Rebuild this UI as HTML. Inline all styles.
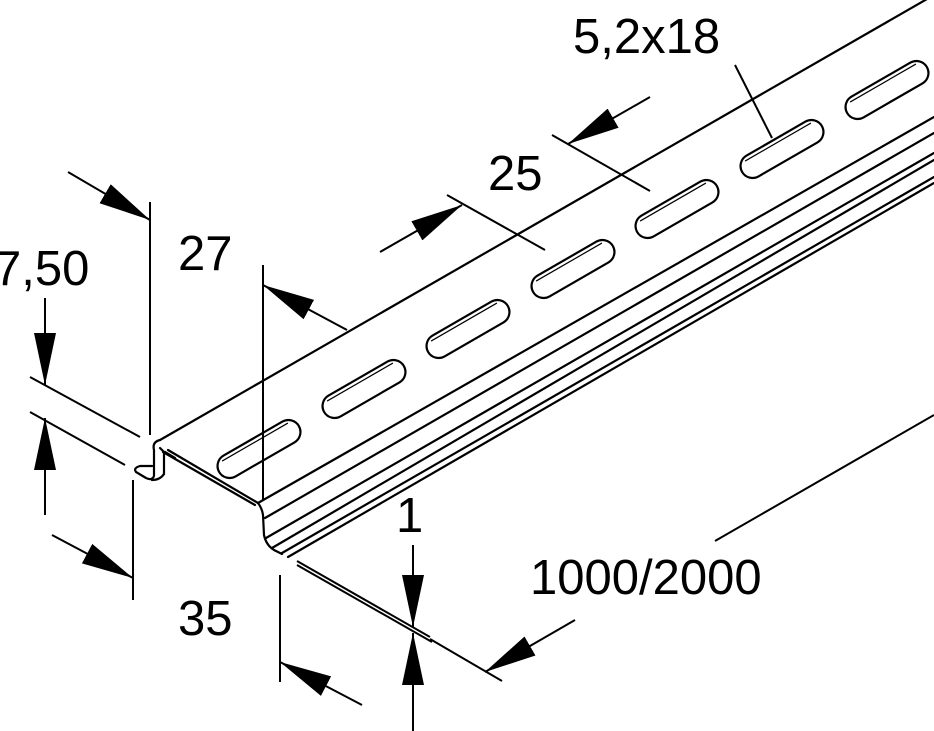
<!DOCTYPE html>
<html><head><style>html,body{margin:0;padding:0;background:#fff}svg{display:block}</style></head><body>
<svg width="934" height="731" viewBox="0 0 934 731" xmlns="http://www.w3.org/2000/svg">
<defs>
<marker id="a" markerUnits="userSpaceOnUse" markerWidth="56" markerHeight="26" refX="52" refY="11" orient="auto">
<path d="M0,0 L52,11 L0,22 z" fill="#000"/></marker>
</defs>
<g stroke="#000" stroke-width="2.2" fill="none" stroke-linecap="round">
<line x1="160" y1="440" x2="934" y2="-5"/>
<line x1="258" y1="503" x2="934" y2="117"/>
<line x1="265" y1="518" x2="934" y2="133"/>
<line x1="266" y1="538" x2="934" y2="153"/>
<line x1="272" y1="548" x2="934" y2="160"/>
<line x1="282" y1="553" x2="934" y2="177"/>
<line x1="288" y1="557" x2="934" y2="183"/>
<path d="M258,503 Q262,508 263,515 L264,535 Q266,545 274,550 L282,554"/>
<path d="M258,503 L168,450 M160,440 Q152,442 154,450 L154,476 Q152,481 146,478 L136,472 Q133,468 140,466 L152,466"/>
<path d="M160,448 L164,452 L164,474 Q160,480 152,480 M165,452 L175,458"/>
<path d="M255,505 L163,452"/>
</g>
<g stroke="#000" stroke-width="2.2" fill="#fff">
<g transform="translate(259,449) rotate(-30)"><rect x="-46" y="-12" width="92" height="24" rx="12"/><line x1="-38" y1="-8" x2="38" y2="-8" stroke-width="1.2"/></g>
<g transform="translate(364,389) rotate(-30)"><rect x="-46" y="-12" width="92" height="24" rx="12"/><line x1="-38" y1="-8" x2="38" y2="-8" stroke-width="1.2"/></g>
<g transform="translate(468,329) rotate(-30)"><rect x="-46" y="-12" width="92" height="24" rx="12"/><line x1="-38" y1="-8" x2="38" y2="-8" stroke-width="1.2"/></g>
<g transform="translate(573,269) rotate(-30)"><rect x="-46" y="-12" width="92" height="24" rx="12"/><line x1="-38" y1="-8" x2="38" y2="-8" stroke-width="1.2"/></g>
<g transform="translate(677,209) rotate(-30)"><rect x="-46" y="-12" width="92" height="24" rx="12"/><line x1="-38" y1="-8" x2="38" y2="-8" stroke-width="1.2"/></g>
<g transform="translate(782,149) rotate(-30)"><rect x="-46" y="-12" width="92" height="24" rx="12"/><line x1="-38" y1="-8" x2="38" y2="-8" stroke-width="1.2"/></g>
<g transform="translate(887,90) rotate(-30)"><rect x="-46" y="-12" width="92" height="24" rx="12"/><line x1="-38" y1="-8" x2="38" y2="-8" stroke-width="1.2"/></g>
</g>
<g stroke="#000" stroke-width="2" fill="none">
<line x1="150" y1="202" x2="150" y2="435"/>
<line x1="263" y1="265" x2="263" y2="500"/>
<line x1="68" y1="172" x2="150" y2="220" marker-end="url(#a)"/>
<line x1="347" y1="330" x2="263" y2="285" marker-end="url(#a)"/>
<line x1="30" y1="377" x2="140" y2="437"/>
<line x1="30" y1="412" x2="125" y2="465"/>
<line x1="45" y1="298" x2="45" y2="385" marker-end="url(#a)"/>
<line x1="45" y1="515" x2="45" y2="418" marker-end="url(#a)"/>
<line x1="133" y1="480" x2="133" y2="600"/>
<line x1="280" y1="575" x2="280" y2="682"/>
<line x1="52" y1="535" x2="133" y2="578" marker-end="url(#a)"/>
<line x1="362" y1="705" x2="280" y2="662" marker-end="url(#a)"/>
<line x1="297" y1="561" x2="430" y2="637"/>
<line x1="297" y1="565" x2="432" y2="642"/>
<line x1="430" y1="639" x2="502" y2="681"/>
<line x1="413" y1="545" x2="413" y2="627" marker-end="url(#a)"/>
<line x1="413" y1="731" x2="413" y2="633" marker-end="url(#a)"/>
<line x1="575" y1="620" x2="485" y2="672" marker-end="url(#a)"/>
<line x1="715" y1="541" x2="934" y2="415"/>
<line x1="447" y1="195" x2="545" y2="250"/>
<line x1="552" y1="135" x2="650" y2="191"/>
<line x1="380" y1="252" x2="462" y2="205" marker-end="url(#a)"/>
<line x1="650" y1="97" x2="568" y2="144" marker-end="url(#a)"/>
<line x1="735" y1="65" x2="772" y2="138"/>
</g>
<g font-family="Liberation Sans, sans-serif" font-size="49" fill="#000">
<text x="573" y="53">5,2x18</text>
<text x="488" y="190">25</text>
<text x="178" y="270">27</text>
<text x="-6" y="285">7,50</text>
<text x="396" y="532">1</text>
<text x="530" y="594">1000/2000</text>
<text x="178" y="635">35</text>
</g>
</svg>
</body></html>
